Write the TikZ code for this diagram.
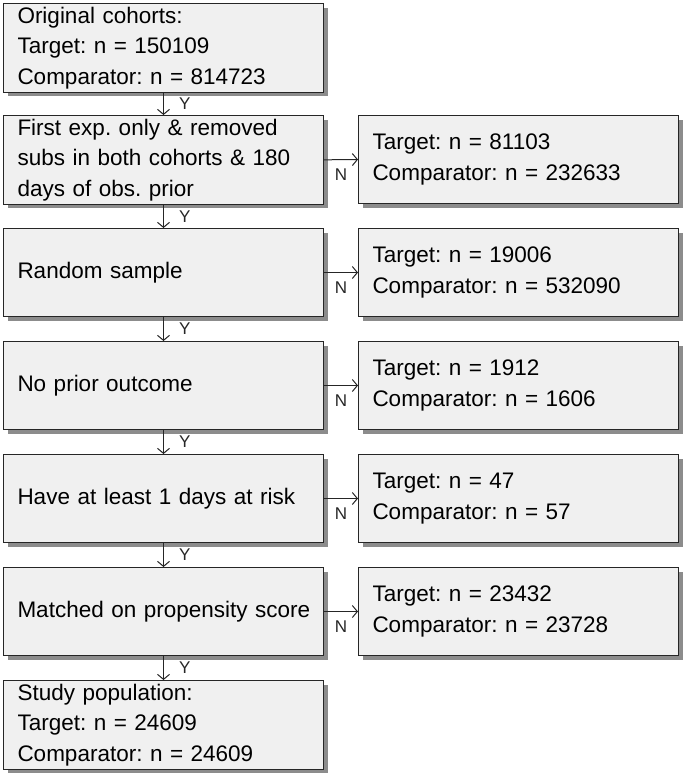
\documentclass[tikz,border=0pt]{standalone}
\usepackage{fontspec}
\setmainfont{Liberation Sans}
\frenchspacing
\usetikzlibrary{arrows.meta,shadows}

\tikzset{every picture/.style={line width=1pt}}
\tikzset{
  stagebox/.style={rectangle, draw=black!85, fill=black!6, anchor=north west,
    minimum width=320pt, minimum height=88pt, text width=292pt, inner xsep=14pt,
    align=left, font=\fontsize{22.5}{30.5}\selectfont,
    drop shadow={shadow xshift=4pt, shadow yshift=-4pt, fill=black!45, opacity=1}},
  flowarrow/.style={draw=black!85, -{Straight Barb[length=5pt,width=12pt]}},
  yn/.style={font=\fontsize{17}{17}\selectfont, inner sep=0pt, text=black!85}
}

\begin{document}
\begin{tikzpicture}[x=1pt,y=1pt,yscale=-1]
\useasboundingbox (0,0) rectangle (687,777);

% Left column
\node [stagebox] (orig) at (3,3) {Original cohorts:\\Target: n = 150109\\Comparator: n = 814723};
\node [stagebox] (first) at (3,115) {First exp. only \& removed\\subs in both cohorts \& 180\\days of obs. prior};
\node [stagebox] (rand) at (3,228) {Random sample};
\node [stagebox] (prior) at (3,341) {No prior outcome};
\node [stagebox] (risk) at (3,454) {Have at least 1 days at risk};
\node [stagebox] (match) at (3,567) {\mbox{Matched on propensity score}};
\node [stagebox] (study) at (3,680) {Study population:\\Target: n = 24609\\Comparator: n = 24609};

% Right column (excluded)
\node [stagebox] (firstx) at (358,115) {Target: n = 81103\\Comparator: n = 232633};
\node [stagebox] (randx) at (358,228) {Target: n = 19006\\Comparator: n = 532090};
\node [stagebox] (priorx) at (358,341) {Target: n = 1912\\Comparator: n = 1606};
\node [stagebox] (riskx) at (358,454) {Target: n = 47\\Comparator: n = 57};
\node [stagebox] (matchx) at (358,567) {Target: n = 23432\\Comparator: n = 23728};

% Y arrows
\draw [flowarrow] (orig.south) -- node [yn, right=15pt] {Y} (first.north);
\draw [flowarrow] (first.south) -- node [yn, right=15pt] {Y} (rand.north);
\draw [flowarrow] (rand.south) -- node [yn, right=15pt] {Y} (prior.north);
\draw [flowarrow] (prior.south) -- node [yn, right=15pt] {Y} (risk.north);
\draw [flowarrow] (risk.south) -- node [yn, right=15pt] {Y} (match.north);
\draw [flowarrow] (match.south) -- node [yn, right=15pt] {Y} (study.north);

% N arrows
\draw [flowarrow] (first.east) -- node [yn, below=9pt] {N} (firstx.west);
\draw [flowarrow] (rand.east) -- node [yn, below=9pt] {N} (randx.west);
\draw [flowarrow] (prior.east) -- node [yn, below=9pt] {N} (priorx.west);
\draw [flowarrow] (risk.east) -- node [yn, below=9pt] {N} (riskx.west);
\draw [flowarrow] (match.east) -- node [yn, below=9pt] {N} (matchx.west);

\end{tikzpicture}
\end{document}
